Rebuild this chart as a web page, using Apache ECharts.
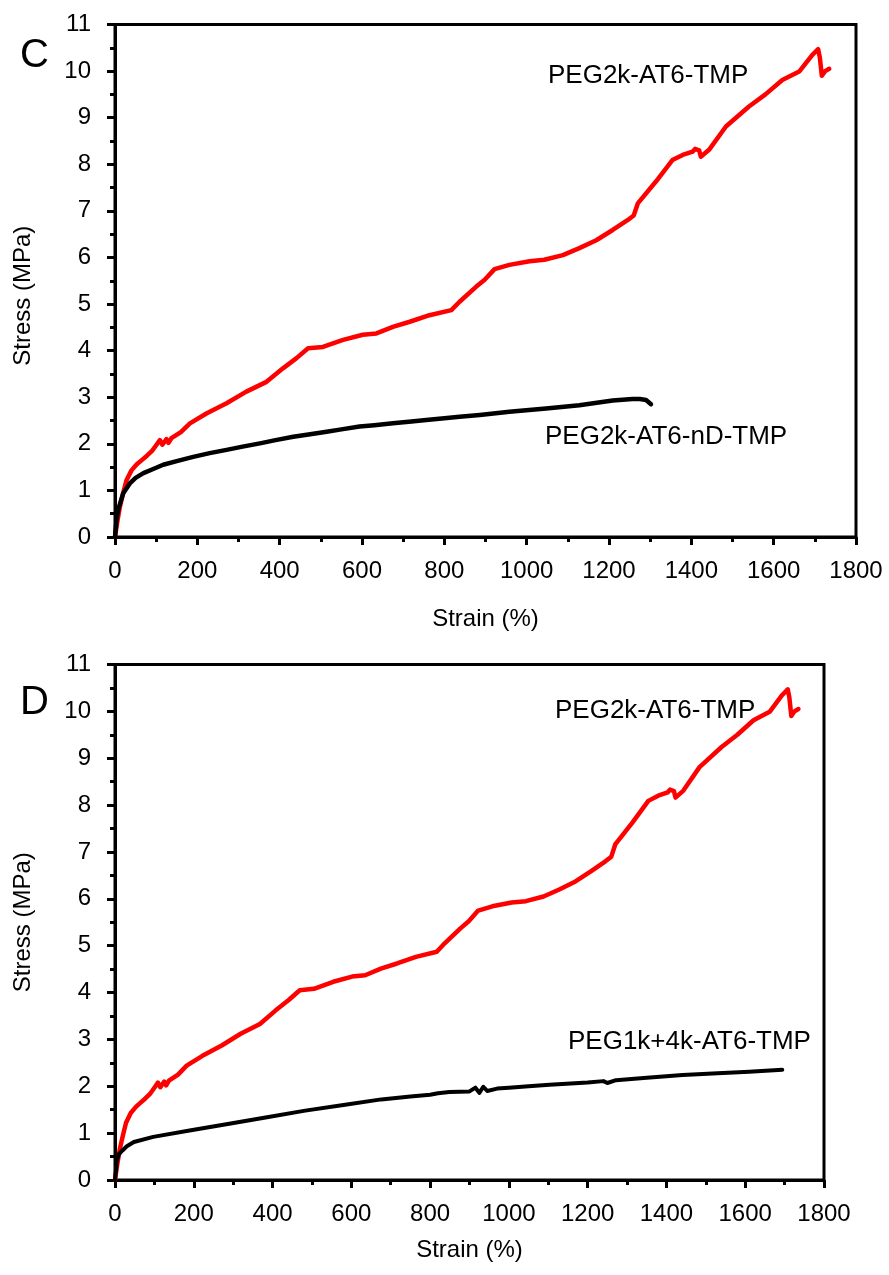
<!DOCTYPE html>
<html>
<head>
<meta charset="utf-8">
<script src="https://cdn.jsdelivr.net/npm/echarts@6/dist/echarts.min.js"></script>
<style>
html,body{margin:0;padding:0;background:#fff;}
#chart{width:889px;height:1275px;}
</style>
</head>
<body>
<div id="chart"></div>
<script>
// ---- data (strain %, stress MPa) ----
const xTicks = [0, 200, 400, 600, 800, 1000, 1200, 1400, 1600, 1800];
const yTicks = [0, 1, 2, 3, 4, 5, 6, 7, 8, 9, 10, 11];

const redStrain = [0, 3, 6, 12, 20, 28, 40, 53, 65, 77, 90, 100, 109, 115, 125, 130, 137, 160, 182, 222, 271, 319, 368, 408, 441, 469, 505, 554, 602, 635, 675, 716, 764, 817, 837, 877, 898, 922, 958, 1007, 1043, 1088, 1128, 1169, 1209, 1245, 1260, 1270, 1314, 1354, 1379, 1403, 1409, 1419, 1423, 1443, 1484, 1540, 1580, 1621, 1662, 1694, 1708, 1712, 1717, 1725, 1735];
const redStress = [0, 0.18, 0.35, 0.65, 0.95, 1.22, 1.43, 1.56, 1.65, 1.74, 1.85, 1.97, 2.08, 1.98, 2.1, 2.02, 2.12, 2.25, 2.44, 2.65, 2.87, 3.12, 3.33, 3.62, 3.84, 4.05, 4.08, 4.23, 4.34, 4.37, 4.51, 4.62, 4.76, 4.87, 5.05, 5.37, 5.52, 5.75, 5.84, 5.92, 5.95, 6.05, 6.2, 6.37, 6.59, 6.8, 6.9, 7.16, 7.63, 8.09, 8.2, 8.27, 8.33, 8.3, 8.16, 8.31, 8.81, 9.24, 9.5, 9.81, 9.99, 10.35, 10.47, 10.3, 9.9, 10.0, 10.05];

const ndStrain = [0, 3, 6, 10, 20, 36, 50, 69, 90, 117, 150, 190, 230, 271, 310, 352, 390, 433, 470, 514, 550, 594, 630, 675, 720, 756, 800, 837, 886, 958, 1047, 1128, 1209, 1257, 1275, 1290, 1302];
const ndStress = [0, 0.3, 0.5, 0.65, 0.94, 1.15, 1.27, 1.37, 1.45, 1.55, 1.63, 1.72, 1.8, 1.87, 1.94, 2.01, 2.08, 2.15, 2.2, 2.26, 2.31, 2.37, 2.4, 2.44, 2.48, 2.51, 2.55, 2.58, 2.62, 2.69, 2.76, 2.83, 2.93, 2.96, 2.96, 2.94, 2.85];

const mixStrain = [0, 5, 10, 19, 30, 48, 97, 193, 290, 386, 483, 580, 676, 750, 800, 820, 849, 900, 915, 925, 935, 945, 970, 1000, 1050, 1103, 1200, 1240, 1250, 1272, 1350, 1441, 1530, 1610, 1694];
const mixStress = [0, 0.42, 0.55, 0.63, 0.72, 0.81, 0.92, 1.06, 1.2, 1.34, 1.48, 1.6, 1.72, 1.78, 1.82, 1.85, 1.88, 1.89, 1.97, 1.86, 1.99, 1.9, 1.95, 1.97, 2.0, 2.03, 2.08, 2.11, 2.07, 2.13, 2.18, 2.24, 2.28, 2.31, 2.35];

const pairs = (xs, ys) => xs.map((x, i) => [x, ys[i]]);

const FONT = '"Liberation Sans", Arial, sans-serif';
const chart = echarts.init(document.getElementById('chart'), null, {renderer: 'canvas'});

function xAxisDef(gridIndex, gap) {
  return {
    type: 'value', gridIndex, min: 0, max: 1800, interval: 200,
    name: 'Strain (%)', nameLocation: 'middle', nameGap: gap,
    nameTextStyle: {fontFamily: FONT, fontSize: 24, color: '#000'},
    axisLine: {show: true, onZero: false, lineStyle: {color: '#000', width: 3}},
    axisTick: {show: true, inside: false, length: 8, lineStyle: {width: 3, color: '#000'}},
    minorTick: {show: true, splitNumber: 2, length: 5, lineStyle: {width: 3, color: '#000'}},
    axisLabel: {fontFamily: FONT, fontSize: 24, color: '#000', margin: 22,
      formatter: v => xTicks.includes(v) ? String(v) : ''},
    splitLine: {show: false}
  };
}
function yAxisDef(gridIndex, gap, pad) {
  return {
    type: 'value', gridIndex, min: 0, max: 11, interval: 1,
    name: 'Stress (MPa)', nameLocation: 'middle', nameGap: gap, nameRotate: 90,
    nameTextStyle: {fontFamily: FONT, fontSize: 24, color: '#000', padding: pad},
    axisLine: {show: true, onZero: false, lineStyle: {color: '#000', width: 3}},
    axisTick: {show: true, inside: false, length: 8, lineStyle: {width: 3, color: '#000'}},
    minorTick: {show: true, splitNumber: 2, length: 5, lineStyle: {width: 3, color: '#000'}},
    axisLabel: {fontFamily: FONT, fontSize: 24, color: '#000', margin: 24,
      formatter: v => yTicks.includes(v) ? String(v) : ''},
    splitLine: {show: false}
  };
}

const lineSeries = (name, xi, data, color, w) => ({
  name, type: 'line', xAxisIndex: xi, yAxisIndex: xi, data,
  showSymbol: false, symbol: 'none', smooth: false,
  lineStyle: {color, width: w, join: 'round', cap: 'round'}, itemStyle: {color}, z: 3
});

const txt = (text, left, top, size) => ({
  type: 'text', left, top,
  style: {text, font: size + 'px ' + FONT, fill: '#000'}
});

chart.setOption({
  animation: false,
  backgroundColor: '#fff',
  grid: [
    {left: 115, top: 24.5, width: 741, height: 512.5, show: true, borderColor: '#000', borderWidth: 3, backgroundColor: 'transparent'},
    {left: 115, top: 664.5, width: 709, height: 515.5, show: true, borderColor: '#000', borderWidth: 3, backgroundColor: 'transparent'}
  ],
  xAxis: [xAxisDef(0, 70), xAxisDef(1, 58)],
  yAxis: [yAxisDef(0, 80, [0, 30, 0, 0]), yAxisDef(1, 80, [0, 0, 0, 0])],
  series: [
    lineSeries('PEG2k-AT6-TMP', 0, pairs(redStrain, redStress), '#ff0000', 4.5),
    lineSeries('PEG2k-AT6-nD-TMP', 0, pairs(ndStrain, ndStress), '#000000', 4.5),
    lineSeries('PEG2k-AT6-TMP', 1, pairs(redStrain, redStress), '#ff0000', 4.5),
    lineSeries('PEG1k+4k-AT6-TMP', 1, pairs(mixStrain, mixStress), '#000000', 4)
  ],
  graphic: [
    txt('C', 20, 36, 40),
    txt('D', 20, 683, 40),
    txt('PEG2k-AT6-TMP', 548, 63, 26),
    txt('PEG2k-AT6-nD-TMP', 545, 424, 26),
    txt('PEG2k-AT6-TMP', 555, 698, 26),
    txt('PEG1k+4k-AT6-TMP', 568, 1029, 26)
  ]
});
</script>
</body>
</html>
